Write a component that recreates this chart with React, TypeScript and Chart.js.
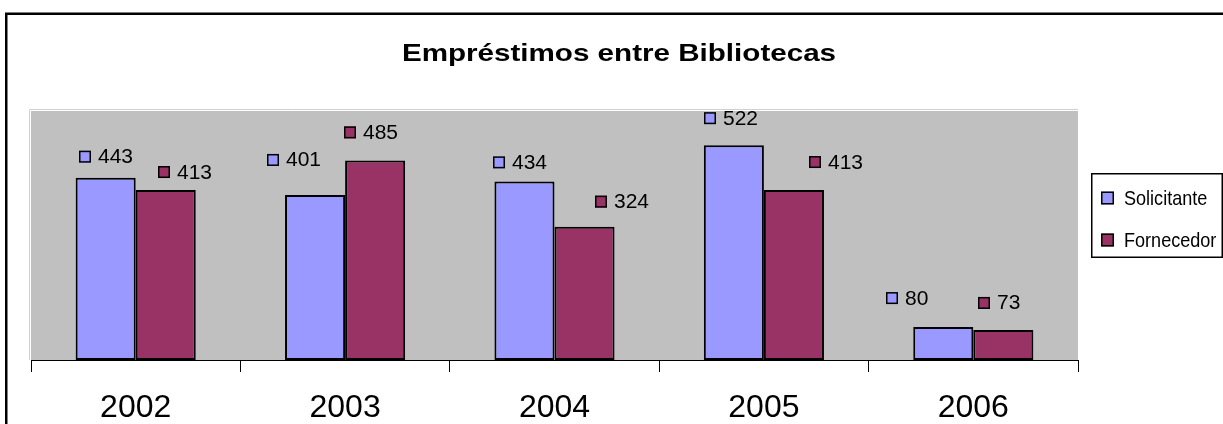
import React, { useEffect, useRef } from "react";
import { Chart, registerables } from "chart.js";

Chart.register(...registerables);

// ---- data ----
const categories = ["2002", "2003", "2004", "2005", "2006"];
const seriesNames = ["Solicitante", "Fornecedor"];
const solicitante = [443, 401, 434, 522, 80];
const fornecedor = [413, 485, 324, 413, 73];
const chartTitle = "Empréstimos entre Bibliotecas";
const yMin = 0;
const yMax = 605;

// ---- style ----
const seriesColors = ["#9999FF", "#993366"];
const FONT = "'Liberation Sans', Arial, Helvetica, sans-serif";
// data-label nudges relative to each bar (dx: horizontal, dy: distance above bar top)
const labelNudgeX = [
  [0, -21, -4, -3, -36],
  [19, -4, 37, 42, -4],
];
const labelNudgeY = [
  [21, 35, 19, 27, 29],
  [18, 28, 25, 28, 27],
];

const decorPlugin = {
  id: "decor",
  beforeDraw(chart: any) {
    const { ctx, chartArea: a } = chart;
    ctx.save();
    ctx.fillStyle = "#FFFFFF";
    ctx.fillRect(0, 0, chart.width, chart.height);
    // plot area
    ctx.fillStyle = "#C0C0C0";
    ctx.fillRect(a.left, a.top, a.right - a.left, a.bottom - a.top);
    ctx.strokeStyle = "#D0D0D0";
    ctx.lineWidth = 1;
    ctx.beginPath();
    ctx.moveTo(a.left - 1.5, a.bottom);
    ctx.lineTo(a.left - 1.5, a.top - 1.5);
    ctx.lineTo(a.right, a.top - 1.5);
    ctx.stroke();
    // outer chart border
    ctx.strokeStyle = "#000000";
    ctx.lineWidth = 2.5;
    ctx.strokeRect(6.25, 13.75, chart.width + 50, chart.height + 50);
    // title
    ctx.font = `bold 24px ${FONT}`;
    ctx.fillStyle = "#000000";
    ctx.textAlign = "center";
    ctx.textBaseline = "alphabetic";
    ctx.translate(619, 61);
    ctx.scale(1.233, 1);
    ctx.fillText(chartTitle, 0, 0);
    ctx.restore();
  },
  afterDatasetsDraw(chart: any) {
    const { ctx } = chart;
    ctx.save();
    ctx.font = `20px ${FONT}`;
    ctx.textBaseline = "middle";
    ctx.textAlign = "left";
    chart.data.datasets.forEach((ds: any, i: number) => {
      const meta = chart.getDatasetMeta(i);
      meta.data.forEach((bar: any, j: number) => {
        const text = String(ds.data[j]);
        const tw = ctx.measureText(text).width * 1.05;
        const total = 12 + 7 + tw;
        const cx = bar.x + labelNudgeX[i][j];
        const cy = bar.y - labelNudgeY[i][j];
        const sx = Math.round(cx - total / 2);
        ctx.fillStyle = seriesColors[i];
        ctx.fillRect(sx, cy - 6, 12, 12);
        ctx.strokeStyle = "#000";
        ctx.lineWidth = 1.5;
        ctx.strokeRect(sx + 0.75, cy - 5.25, 10.5, 10.5);
        ctx.fillStyle = "#000";
        ctx.save();
        ctx.translate(sx + 19, cy + 1);
        ctx.scale(1.05, 1);
        ctx.fillText(text, 0, 0);
        ctx.restore();
      });
    });
    ctx.restore();
  },
  afterDraw(chart: any) {
    const { ctx, chartArea: a } = chart;
    ctx.save();
    const bx = a.right + 13;
    const by = 173;
    const bw = 132;
    const bh = 85;
    ctx.strokeStyle = "#000";
    ctx.lineWidth = 1.5;
    ctx.strokeRect(bx + 0.75, by + 0.75, bw - 1.5, bh - 1.5);
    ctx.font = `21px ${FONT}`;
    ctx.textBaseline = "middle";
    ctx.textAlign = "left";
    seriesNames.forEach((name, i) => {
      const cy = by + 25 + i * 42;
      ctx.fillStyle = seriesColors[i];
      ctx.fillRect(bx + 10, cy - 6.5, 13, 13);
      ctx.strokeStyle = "#000";
      ctx.lineWidth = 1.5;
      ctx.strokeRect(bx + 10.75, cy - 5.75, 11.5, 11.5);
      ctx.fillStyle = "#000";
      ctx.save();
      ctx.translate(bx + 33, cy + 1);
      ctx.scale(0.86, 1);
      ctx.fillText(name, 0, 0);
      ctx.restore();
    });
    ctx.restore();
  },
};

export default function App() {
  const ref = useRef<HTMLCanvasElement>(null);
  useEffect(() => {
    if (!ref.current) return;
    const chart = new Chart(ref.current, {
      type: "bar",
      data: {
        labels: categories,
        datasets: [
          {
            label: seriesNames[0],
            data: solicitante,
            backgroundColor: seriesColors[0],
            borderColor: "#000000",
            borderWidth: 2,
            borderSkipped: false,
          },
          {
            label: seriesNames[1],
            data: fornecedor,
            backgroundColor: seriesColors[1],
            borderColor: "#000000",
            borderWidth: 2,
            borderSkipped: false,
          },
        ],
      },
      options: {
        responsive: false,
        animation: false,
        devicePixelRatio: 1,
        layout: { padding: { left: 31, right: 145, top: 111, bottom: 0 } },
        datasets: { bar: { categoryPercentage: 0.5736, barPercentage: 1 } },
        plugins: {
          legend: { display: false },
          title: { display: false },
          tooltip: { enabled: false },
        },
        scales: {
          x: {
            afterFit(scale: any) {
              scale.height = 64;
            },
            grid: {
              display: true,
              offset: true,
              drawOnChartArea: false,
              drawTicks: true,
              tickLength: 12,
              color: "#000000",
              lineWidth: 1,
            },
            border: { display: true, color: "#000000", width: 1 },
            ticks: {
              color: "#000000",
              font: { family: FONT, size: 32 },
              padding: 17,
              maxRotation: 0,
            },
          },
          y: {
            display: false,
            min: yMin,
            max: yMax,
          },
        },
      },
      plugins: [decorPlugin],
    });
    return () => chart.destroy();
  }, []);
  return (
    <div style={{ position: "absolute", left: 0, top: 0, width: 1223, height: 424 }}>
      <canvas ref={ref} width={1223} height={424} style={{ display: "block" }} />
    </div>
  );
}
